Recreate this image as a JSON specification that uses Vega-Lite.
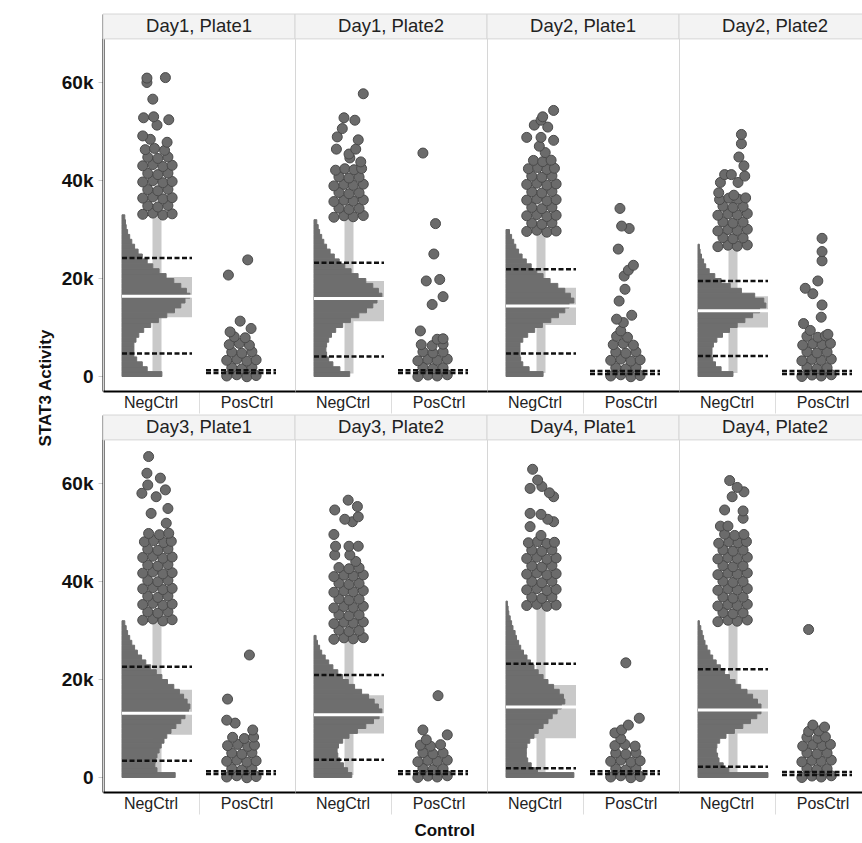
{
  "$schema": "https://vega.github.io/schema/vega-lite/v6.json",
  "padding": {"left": 37, "top": 13, "right": 0, "bottom": 0},
  "background": "white",
  "config": {
    "font": "Liberation Sans",
    "view": {"stroke": "#d6d6d6", "strokeWidth": 1},
    "axis": {"grid": false},
    "concat": {"spacing": 0},
    "header": {"labels": false, "title": null, "labelFontSize": 0, "labelPadding": 0}
  },
  "title": {"text": "Control", "orient": "bottom", "anchor": "middle", "dx": -10, "offset": 8, "fontSize": 17, "fontWeight": "bold", "color": "#111111"},
  "vconcat": [{
  "title": {"text": "STAT3 Activity", "orient": "left", "anchor": "middle", "offset": 6, "dx": 26, "fontSize": 17, "fontWeight": "bold", "color": "#111111"},
  "data": {"values": [
    {"p":"D1P1","c":"NegCtrl","lab":"Day1, Plate1","q1":12000,"q3":20200,"md":16300,"lo":1000,"hi":33500,"dh":24100,"dl":4600},
    {"p":"D1P1","c":"PosCtrl","dh":1200,"dl":600},
    {"p":"D1P2","c":"NegCtrl","lab":"Day1, Plate2","q1":11200,"q3":19400,"md":15800,"lo":500,"hi":33000,"dh":23100,"dl":4000},
    {"p":"D1P2","c":"PosCtrl","dh":1200,"dl":600},
    {"p":"D2P1","c":"NegCtrl","lab":"Day2, Plate1","q1":10400,"q3":18000,"md":14300,"lo":600,"hi":30500,"dh":21800,"dl":4600},
    {"p":"D2P1","c":"PosCtrl","dh":1000,"dl":400},
    {"p":"D2P2","c":"NegCtrl","lab":"Day2, Plate2","q1":9900,"q3":16300,"md":13300,"lo":600,"hi":27500,"dh":19400,"dl":4100},
    {"p":"D2P2","c":"PosCtrl","dh":1000,"dl":400},
    {"p":"D3P1","c":"NegCtrl","lab":"Day3, Plate1","q1":8600,"q3":17800,"md":13000,"lo":400,"hi":32500,"dh":22500,"dl":3300},
    {"p":"D3P1","c":"PosCtrl","dh":1200,"dl":600},
    {"p":"D3P2","c":"NegCtrl","lab":"Day3, Plate2","q1":8900,"q3":16700,"md":12700,"lo":400,"hi":29000,"dh":20800,"dl":3500},
    {"p":"D3P2","c":"PosCtrl","dh":1200,"dl":600},
    {"p":"D4P1","c":"NegCtrl","lab":"Day4, Plate1","q1":7900,"q3":18800,"md":14300,"lo":700,"hi":35500,"dh":23100,"dl":1800},
    {"p":"D4P1","c":"PosCtrl","dh":1200,"dl":600},
    {"p":"D4P2","c":"NegCtrl","lab":"Day4, Plate2","q1":8900,"q3":17800,"md":13700,"lo":600,"hi":32000,"dh":22000,"dl":2100},
    {"p":"D4P2","c":"PosCtrl","dh":1000,"dl":400},

    {"p":"D1P1","b":0,"n":57},{"p":"D1P1","b":1000,"n":36},{"p":"D1P1","b":2000,"n":29},{"p":"D1P1","b":3000,"n":21},{"p":"D1P1","b":4000,"n":17},{"p":"D1P1","b":5000,"n":17},{"p":"D1P1","b":6000,"n":17},{"p":"D1P1","b":7000,"n":20},{"p":"D1P1","b":8000,"n":24},{"p":"D1P1","b":9000,"n":31},{"p":"D1P1","b":10000,"n":41},{"p":"D1P1","b":11000,"n":52},{"p":"D1P1","b":12000,"n":64},{"p":"D1P1","b":13000,"n":75},{"p":"D1P1","b":14000,"n":84},{"p":"D1P1","b":15000,"n":90},{"p":"D1P1","b":16000,"n":97},{"p":"D1P1","b":17000,"n":92},{"p":"D1P1","b":18000,"n":84},{"p":"D1P1","b":19000,"n":74},{"p":"D1P1","b":20000,"n":63},{"p":"D1P1","b":21000,"n":53},{"p":"D1P1","b":22000,"n":44},{"p":"D1P1","b":23000,"n":36},{"p":"D1P1","b":24000,"n":29},{"p":"D1P1","b":25000,"n":23},{"p":"D1P1","b":26000,"n":18},{"p":"D1P1","b":27000,"n":14},{"p":"D1P1","b":28000,"n":11},{"p":"D1P1","b":29000,"n":8},{"p":"D1P1","b":30000,"n":6},{"p":"D1P1","b":31000,"n":5},{"p":"D1P1","b":32000,"n":4},
    {"p":"D1P2","b":0,"n":51},{"p":"D1P2","b":1000,"n":37},{"p":"D1P2","b":2000,"n":27},{"p":"D1P2","b":3000,"n":21},{"p":"D1P2","b":4000,"n":18},{"p":"D1P2","b":5000,"n":17},{"p":"D1P2","b":6000,"n":18},{"p":"D1P2","b":7000,"n":21},{"p":"D1P2","b":8000,"n":25},{"p":"D1P2","b":9000,"n":31},{"p":"D1P2","b":10000,"n":41},{"p":"D1P2","b":11000,"n":52},{"p":"D1P2","b":12000,"n":64},{"p":"D1P2","b":13000,"n":75},{"p":"D1P2","b":14000,"n":84},{"p":"D1P2","b":15000,"n":90},{"p":"D1P2","b":16000,"n":97},{"p":"D1P2","b":17000,"n":92},{"p":"D1P2","b":18000,"n":84},{"p":"D1P2","b":19000,"n":74},{"p":"D1P2","b":20000,"n":63},{"p":"D1P2","b":21000,"n":53},{"p":"D1P2","b":22000,"n":44},{"p":"D1P2","b":23000,"n":36},{"p":"D1P2","b":24000,"n":29},{"p":"D1P2","b":25000,"n":23},{"p":"D1P2","b":26000,"n":18},{"p":"D1P2","b":27000,"n":14},{"p":"D1P2","b":28000,"n":11},{"p":"D1P2","b":29000,"n":8},{"p":"D1P2","b":30000,"n":6},{"p":"D1P2","b":31000,"n":4},
    {"p":"D2P1","b":0,"n":53},{"p":"D2P1","b":1000,"n":33},{"p":"D2P1","b":2000,"n":24},{"p":"D2P1","b":3000,"n":21},{"p":"D2P1","b":4000,"n":20},{"p":"D2P1","b":5000,"n":20},{"p":"D2P1","b":6000,"n":20},{"p":"D2P1","b":7000,"n":24},{"p":"D2P1","b":8000,"n":31},{"p":"D2P1","b":9000,"n":41},{"p":"D2P1","b":10000,"n":52},{"p":"D2P1","b":11000,"n":64},{"p":"D2P1","b":12000,"n":75},{"p":"D2P1","b":13000,"n":84},{"p":"D2P1","b":14000,"n":90},{"p":"D2P1","b":15000,"n":97},{"p":"D2P1","b":16000,"n":92},{"p":"D2P1","b":17000,"n":84},{"p":"D2P1","b":18000,"n":74},{"p":"D2P1","b":19000,"n":63},{"p":"D2P1","b":20000,"n":53},{"p":"D2P1","b":21000,"n":44},{"p":"D2P1","b":22000,"n":36},{"p":"D2P1","b":23000,"n":29},{"p":"D2P1","b":24000,"n":23},{"p":"D2P1","b":25000,"n":18},{"p":"D2P1","b":26000,"n":14},{"p":"D2P1","b":27000,"n":11},{"p":"D2P1","b":28000,"n":8},{"p":"D2P1","b":29000,"n":5},
    {"p":"D2P2","b":0,"n":50},{"p":"D2P2","b":1000,"n":33},{"p":"D2P2","b":2000,"n":25},{"p":"D2P2","b":3000,"n":21},{"p":"D2P2","b":4000,"n":20},{"p":"D2P2","b":5000,"n":20},{"p":"D2P2","b":6000,"n":22},{"p":"D2P2","b":7000,"n":27},{"p":"D2P2","b":8000,"n":35},{"p":"D2P2","b":9000,"n":45},{"p":"D2P2","b":10000,"n":56},{"p":"D2P2","b":11000,"n":67},{"p":"D2P2","b":12000,"n":78},{"p":"D2P2","b":13000,"n":88},{"p":"D2P2","b":14000,"n":97},{"p":"D2P2","b":15000,"n":94},{"p":"D2P2","b":16000,"n":81},{"p":"D2P2","b":17000,"n":62},{"p":"D2P2","b":18000,"n":46},{"p":"D2P2","b":19000,"n":33},{"p":"D2P2","b":20000,"n":24},{"p":"D2P2","b":21000,"n":16},{"p":"D2P2","b":22000,"n":11},{"p":"D2P2","b":23000,"n":8},{"p":"D2P2","b":24000,"n":5},{"p":"D2P2","b":25000,"n":3},{"p":"D2P2","b":26000,"n":2},
    {"p":"D3P1","b":0,"n":76},{"p":"D3P1","b":1000,"n":50},{"p":"D3P1","b":2000,"n":47},{"p":"D3P1","b":3000,"n":48},{"p":"D3P1","b":4000,"n":50},{"p":"D3P1","b":5000,"n":53},{"p":"D3P1","b":6000,"n":56},{"p":"D3P1","b":7000,"n":60},{"p":"D3P1","b":8000,"n":64},{"p":"D3P1","b":9000,"n":70},{"p":"D3P1","b":10000,"n":77},{"p":"D3P1","b":11000,"n":84},{"p":"D3P1","b":12000,"n":90},{"p":"D3P1","b":13000,"n":95},{"p":"D3P1","b":14000,"n":97},{"p":"D3P1","b":15000,"n":93},{"p":"D3P1","b":16000,"n":88},{"p":"D3P1","b":17000,"n":82},{"p":"D3P1","b":18000,"n":74},{"p":"D3P1","b":19000,"n":65},{"p":"D3P1","b":20000,"n":57},{"p":"D3P1","b":21000,"n":49},{"p":"D3P1","b":22000,"n":41},{"p":"D3P1","b":23000,"n":34},{"p":"D3P1","b":24000,"n":28},{"p":"D3P1","b":25000,"n":22},{"p":"D3P1","b":26000,"n":18},{"p":"D3P1","b":27000,"n":14},{"p":"D3P1","b":28000,"n":11},{"p":"D3P1","b":29000,"n":8},{"p":"D3P1","b":30000,"n":6},{"p":"D3P1","b":31000,"n":4},
    {"p":"D3P2","b":0,"n":54},{"p":"D3P2","b":1000,"n":48},{"p":"D3P2","b":2000,"n":42},{"p":"D3P2","b":3000,"n":37},{"p":"D3P2","b":4000,"n":34},{"p":"D3P2","b":5000,"n":33},{"p":"D3P2","b":6000,"n":35},{"p":"D3P2","b":7000,"n":41},{"p":"D3P2","b":8000,"n":50},{"p":"D3P2","b":9000,"n":62},{"p":"D3P2","b":10000,"n":74},{"p":"D3P2","b":11000,"n":85},{"p":"D3P2","b":12000,"n":93},{"p":"D3P2","b":13000,"n":97},{"p":"D3P2","b":14000,"n":92},{"p":"D3P2","b":15000,"n":86},{"p":"D3P2","b":16000,"n":78},{"p":"D3P2","b":17000,"n":68},{"p":"D3P2","b":18000,"n":58},{"p":"D3P2","b":19000,"n":49},{"p":"D3P2","b":20000,"n":41},{"p":"D3P2","b":21000,"n":34},{"p":"D3P2","b":22000,"n":27},{"p":"D3P2","b":23000,"n":21},{"p":"D3P2","b":24000,"n":16},{"p":"D3P2","b":25000,"n":11},{"p":"D3P2","b":26000,"n":8},{"p":"D3P2","b":27000,"n":5},{"p":"D3P2","b":28000,"n":3},
    {"p":"D4P1","b":0,"n":97},{"p":"D4P1","b":1000,"n":45},{"p":"D4P1","b":2000,"n":36},{"p":"D4P1","b":3000,"n":31},{"p":"D4P1","b":4000,"n":29},{"p":"D4P1","b":5000,"n":29},{"p":"D4P1","b":6000,"n":30},{"p":"D4P1","b":7000,"n":34},{"p":"D4P1","b":8000,"n":40},{"p":"D4P1","b":9000,"n":46},{"p":"D4P1","b":10000,"n":53},{"p":"D4P1","b":11000,"n":60},{"p":"D4P1","b":12000,"n":66},{"p":"D4P1","b":13000,"n":73},{"p":"D4P1","b":14000,"n":79},{"p":"D4P1","b":15000,"n":84},{"p":"D4P1","b":16000,"n":82},{"p":"D4P1","b":17000,"n":76},{"p":"D4P1","b":18000,"n":68},{"p":"D4P1","b":19000,"n":60},{"p":"D4P1","b":20000,"n":53},{"p":"D4P1","b":21000,"n":46},{"p":"D4P1","b":22000,"n":40},{"p":"D4P1","b":23000,"n":35},{"p":"D4P1","b":24000,"n":30},{"p":"D4P1","b":25000,"n":25},{"p":"D4P1","b":26000,"n":21},{"p":"D4P1","b":27000,"n":18},{"p":"D4P1","b":28000,"n":15},{"p":"D4P1","b":29000,"n":13},{"p":"D4P1","b":30000,"n":10},{"p":"D4P1","b":31000,"n":8},{"p":"D4P1","b":32000,"n":6},{"p":"D4P1","b":33000,"n":4},{"p":"D4P1","b":34000,"n":3},{"p":"D4P1","b":35000,"n":2},
    {"p":"D4P2","b":0,"n":100},{"p":"D4P2","b":1000,"n":44},{"p":"D4P2","b":2000,"n":36},{"p":"D4P2","b":3000,"n":30},{"p":"D4P2","b":4000,"n":28},{"p":"D4P2","b":5000,"n":26},{"p":"D4P2","b":6000,"n":27},{"p":"D4P2","b":7000,"n":31},{"p":"D4P2","b":8000,"n":40},{"p":"D4P2","b":9000,"n":52},{"p":"D4P2","b":10000,"n":64},{"p":"D4P2","b":11000,"n":75},{"p":"D4P2","b":12000,"n":84},{"p":"D4P2","b":13000,"n":90},{"p":"D4P2","b":14000,"n":90},{"p":"D4P2","b":15000,"n":85},{"p":"D4P2","b":16000,"n":78},{"p":"D4P2","b":17000,"n":70},{"p":"D4P2","b":18000,"n":61},{"p":"D4P2","b":19000,"n":53},{"p":"D4P2","b":20000,"n":45},{"p":"D4P2","b":21000,"n":38},{"p":"D4P2","b":22000,"n":32},{"p":"D4P2","b":23000,"n":26},{"p":"D4P2","b":24000,"n":21},{"p":"D4P2","b":25000,"n":17},{"p":"D4P2","b":26000,"n":13},{"p":"D4P2","b":27000,"n":10},{"p":"D4P2","b":28000,"n":8},{"p":"D4P2","b":29000,"n":6},{"p":"D4P2","b":30000,"n":4},{"p":"D4P2","b":31000,"n":2},

    {"p":"D1P1","c":"NegCtrl","v":33000,"j":-0.17},{"p":"D1P1","c":"NegCtrl","v":33250,"j":-0.05},{"p":"D1P1","c":"NegCtrl","v":32850,"j":0.07},{"p":"D1P1","c":"NegCtrl","v":33100,"j":0.18},
    {"p":"D1P1","c":"NegCtrl","v":34750,"j":-0.11},{"p":"D1P1","c":"NegCtrl","v":34500,"j":0.01},{"p":"D1P1","c":"NegCtrl","v":34800,"j":0.13},
    {"p":"D1P1","c":"NegCtrl","v":36300,"j":-0.17},{"p":"D1P1","c":"NegCtrl","v":36550,"j":-0.05},{"p":"D1P1","c":"NegCtrl","v":36150,"j":0.07},{"p":"D1P1","c":"NegCtrl","v":36400,"j":0.18},
    {"p":"D1P1","c":"NegCtrl","v":38050,"j":-0.11},{"p":"D1P1","c":"NegCtrl","v":37800,"j":0.01},{"p":"D1P1","c":"NegCtrl","v":38100,"j":0.13},
    {"p":"D1P1","c":"NegCtrl","v":39600,"j":-0.17},{"p":"D1P1","c":"NegCtrl","v":39850,"j":-0.05},{"p":"D1P1","c":"NegCtrl","v":39450,"j":0.07},{"p":"D1P1","c":"NegCtrl","v":39700,"j":0.18},
    {"p":"D1P1","c":"NegCtrl","v":41350,"j":-0.11},{"p":"D1P1","c":"NegCtrl","v":41100,"j":0.01},{"p":"D1P1","c":"NegCtrl","v":41400,"j":0.13},
    {"p":"D1P1","c":"NegCtrl","v":42900,"j":-0.17},{"p":"D1P1","c":"NegCtrl","v":43150,"j":-0.05},{"p":"D1P1","c":"NegCtrl","v":42750,"j":0.07},{"p":"D1P1","c":"NegCtrl","v":43000,"j":0.18},
    {"p":"D1P1","c":"NegCtrl","v":44650,"j":-0.11},{"p":"D1P1","c":"NegCtrl","v":44400,"j":0.01},{"p":"D1P1","c":"NegCtrl","v":44700,"j":0.13},
    {"p":"D1P1","c":"NegCtrl","v":46200,"j":-0.14},{"p":"D1P1","c":"NegCtrl","v":46450,"j":-0.03},{"p":"D1P1","c":"NegCtrl","v":46050,"j":0.09},
    {"p":"D1P1","c":"NegCtrl","v":47700,"j":0.12},{"p":"D1P1","c":"NegCtrl","v":48300,"j":-0.08},{"p":"D1P1","c":"NegCtrl","v":49000,"j":-0.17},{"p":"D1P1","c":"NegCtrl","v":51200,"j":0.0},{"p":"D1P1","c":"NegCtrl","v":52300,"j":0.14},{"p":"D1P1","c":"NegCtrl","v":52900,"j":-0.04},{"p":"D1P1","c":"NegCtrl","v":52700,"j":-0.16},{"p":"D1P1","c":"NegCtrl","v":56500,"j":-0.05},{"p":"D1P1","c":"NegCtrl","v":59900,"j":-0.12},{"p":"D1P1","c":"NegCtrl","v":60800,"j":-0.12},{"p":"D1P1","c":"NegCtrl","v":60900,"j":0.1},
    {"p":"D1P1","c":"PosCtrl","v":0,"j":-0.17},{"p":"D1P1","c":"PosCtrl","v":250,"j":-0.05},{"p":"D1P1","c":"PosCtrl","v":-150,"j":0.07},{"p":"D1P1","c":"PosCtrl","v":100,"j":0.18},
    {"p":"D1P1","c":"PosCtrl","v":1700,"j":-0.11},{"p":"D1P1","c":"PosCtrl","v":1450,"j":0.01},{"p":"D1P1","c":"PosCtrl","v":1750,"j":0.13},
    {"p":"D1P1","c":"PosCtrl","v":3200,"j":-0.17},{"p":"D1P1","c":"PosCtrl","v":3450,"j":-0.05},{"p":"D1P1","c":"PosCtrl","v":3050,"j":0.07},{"p":"D1P1","c":"PosCtrl","v":3300,"j":0.18},
    {"p":"D1P1","c":"PosCtrl","v":4900,"j":-0.11},{"p":"D1P1","c":"PosCtrl","v":4650,"j":0.01},{"p":"D1P1","c":"PosCtrl","v":4950,"j":0.13},
    {"p":"D1P1","c":"PosCtrl","v":6400,"j":-0.14},{"p":"D1P1","c":"PosCtrl","v":6650,"j":-0.02},{"p":"D1P1","c":"PosCtrl","v":6300,"j":0.1},
    {"p":"D1P1","c":"PosCtrl","v":8000,"j":-0.08},{"p":"D1P1","c":"PosCtrl","v":7800,"j":0.05},
    {"p":"D1P1","c":"PosCtrl","v":9000,"j":-0.13},{"p":"D1P1","c":"PosCtrl","v":9700,"j":0.12},{"p":"D1P1","c":"PosCtrl","v":11200,"j":-0.01},{"p":"D1P1","c":"PosCtrl","v":20600,"j":-0.15},{"p":"D1P1","c":"PosCtrl","v":23700,"j":0.08},

    {"p":"D1P2","c":"NegCtrl","v":32400,"j":-0.18},{"p":"D1P2","c":"NegCtrl","v":32700,"j":-0.06},{"p":"D1P2","c":"NegCtrl","v":32500,"j":0.05},{"p":"D1P2","c":"NegCtrl","v":32750,"j":0.17},
    {"p":"D1P2","c":"NegCtrl","v":34250,"j":-0.12},{"p":"D1P2","c":"NegCtrl","v":34000,"j":0.0},{"p":"D1P2","c":"NegCtrl","v":34200,"j":0.12},
    {"p":"D1P2","c":"NegCtrl","v":35600,"j":-0.18},{"p":"D1P2","c":"NegCtrl","v":35900,"j":-0.06},{"p":"D1P2","c":"NegCtrl","v":35700,"j":0.05},{"p":"D1P2","c":"NegCtrl","v":35950,"j":0.17},
    {"p":"D1P2","c":"NegCtrl","v":37450,"j":-0.12},{"p":"D1P2","c":"NegCtrl","v":37200,"j":0.0},{"p":"D1P2","c":"NegCtrl","v":37400,"j":0.12},
    {"p":"D1P2","c":"NegCtrl","v":38800,"j":-0.18},{"p":"D1P2","c":"NegCtrl","v":39100,"j":-0.06},{"p":"D1P2","c":"NegCtrl","v":38900,"j":0.05},{"p":"D1P2","c":"NegCtrl","v":39150,"j":0.17},
    {"p":"D1P2","c":"NegCtrl","v":40650,"j":-0.12},{"p":"D1P2","c":"NegCtrl","v":40400,"j":0.0},{"p":"D1P2","c":"NegCtrl","v":40600,"j":0.12},
    {"p":"D1P2","c":"NegCtrl","v":42000,"j":-0.16},{"p":"D1P2","c":"NegCtrl","v":42300,"j":-0.05},{"p":"D1P2","c":"NegCtrl","v":42100,"j":0.06},{"p":"D1P2","c":"NegCtrl","v":42350,"j":0.15},
    {"p":"D1P2","c":"NegCtrl","v":43700,"j":0.14},{"p":"D1P2","c":"NegCtrl","v":44500,"j":0.01},{"p":"D1P2","c":"NegCtrl","v":45300,"j":0.0},{"p":"D1P2","c":"NegCtrl","v":46300,"j":-0.15},{"p":"D1P2","c":"NegCtrl","v":46300,"j":0.08},{"p":"D1P2","c":"NegCtrl","v":48200,"j":0.11},{"p":"D1P2","c":"NegCtrl","v":48800,"j":-0.14},{"p":"D1P2","c":"NegCtrl","v":50500,"j":-0.08},{"p":"D1P2","c":"NegCtrl","v":52200,"j":0.07},{"p":"D1P2","c":"NegCtrl","v":52700,"j":-0.06},{"p":"D1P2","c":"NegCtrl","v":57600,"j":0.17},
    {"p":"D1P2","c":"PosCtrl","v":-100,"j":-0.18},{"p":"D1P2","c":"PosCtrl","v":200,"j":-0.06},{"p":"D1P2","c":"PosCtrl","v":0,"j":0.05},{"p":"D1P2","c":"PosCtrl","v":250,"j":0.17},
    {"p":"D1P2","c":"PosCtrl","v":1750,"j":-0.12},{"p":"D1P2","c":"PosCtrl","v":1500,"j":0.0},{"p":"D1P2","c":"PosCtrl","v":1700,"j":0.12},
    {"p":"D1P2","c":"PosCtrl","v":3100,"j":-0.18},{"p":"D1P2","c":"PosCtrl","v":3400,"j":-0.06},{"p":"D1P2","c":"PosCtrl","v":3200,"j":0.05},{"p":"D1P2","c":"PosCtrl","v":3450,"j":0.17},
    {"p":"D1P2","c":"PosCtrl","v":4950,"j":-0.12},{"p":"D1P2","c":"PosCtrl","v":4700,"j":0.0},{"p":"D1P2","c":"PosCtrl","v":4900,"j":0.12},
    {"p":"D1P2","c":"PosCtrl","v":6400,"j":-0.14},{"p":"D1P2","c":"PosCtrl","v":6200,"j":-0.01},{"p":"D1P2","c":"PosCtrl","v":6500,"j":0.12},
    {"p":"D1P2","c":"PosCtrl","v":7500,"j":0.05},{"p":"D1P2","c":"PosCtrl","v":7600,"j":0.12},{"p":"D1P2","c":"PosCtrl","v":9200,"j":-0.15},{"p":"D1P2","c":"PosCtrl","v":14600,"j":-0.01},{"p":"D1P2","c":"PosCtrl","v":16200,"j":0.12},{"p":"D1P2","c":"PosCtrl","v":19400,"j":-0.08},{"p":"D1P2","c":"PosCtrl","v":19700,"j":0.08},{"p":"D1P2","c":"PosCtrl","v":24900,"j":0.01},{"p":"D1P2","c":"PosCtrl","v":31100,"j":0.03},{"p":"D1P2","c":"PosCtrl","v":45500,"j":-0.12},

    {"p":"D2P1","c":"NegCtrl","v":29500,"j":-0.17},{"p":"D2P1","c":"NegCtrl","v":29750,"j":-0.05},{"p":"D2P1","c":"NegCtrl","v":29350,"j":0.07},{"p":"D2P1","c":"NegCtrl","v":29600,"j":0.18},
    {"p":"D2P1","c":"NegCtrl","v":31200,"j":-0.11},{"p":"D2P1","c":"NegCtrl","v":30950,"j":0.01},{"p":"D2P1","c":"NegCtrl","v":31250,"j":0.13},
    {"p":"D2P1","c":"NegCtrl","v":32700,"j":-0.17},{"p":"D2P1","c":"NegCtrl","v":32950,"j":-0.05},{"p":"D2P1","c":"NegCtrl","v":32550,"j":0.07},{"p":"D2P1","c":"NegCtrl","v":32800,"j":0.18},
    {"p":"D2P1","c":"NegCtrl","v":34400,"j":-0.11},{"p":"D2P1","c":"NegCtrl","v":34150,"j":0.01},{"p":"D2P1","c":"NegCtrl","v":34450,"j":0.13},
    {"p":"D2P1","c":"NegCtrl","v":35900,"j":-0.17},{"p":"D2P1","c":"NegCtrl","v":36150,"j":-0.05},{"p":"D2P1","c":"NegCtrl","v":35750,"j":0.07},{"p":"D2P1","c":"NegCtrl","v":36000,"j":0.18},
    {"p":"D2P1","c":"NegCtrl","v":37600,"j":-0.11},{"p":"D2P1","c":"NegCtrl","v":37350,"j":0.01},{"p":"D2P1","c":"NegCtrl","v":37650,"j":0.13},
    {"p":"D2P1","c":"NegCtrl","v":39100,"j":-0.17},{"p":"D2P1","c":"NegCtrl","v":39350,"j":-0.05},{"p":"D2P1","c":"NegCtrl","v":38950,"j":0.07},{"p":"D2P1","c":"NegCtrl","v":39200,"j":0.18},
    {"p":"D2P1","c":"NegCtrl","v":40800,"j":-0.11},{"p":"D2P1","c":"NegCtrl","v":40550,"j":0.01},{"p":"D2P1","c":"NegCtrl","v":40850,"j":0.13},
    {"p":"D2P1","c":"NegCtrl","v":42300,"j":-0.15},{"p":"D2P1","c":"NegCtrl","v":42550,"j":-0.04},{"p":"D2P1","c":"NegCtrl","v":42150,"j":0.07},{"p":"D2P1","c":"NegCtrl","v":42400,"j":0.16},
    {"p":"D2P1","c":"NegCtrl","v":44000,"j":-0.09},{"p":"D2P1","c":"NegCtrl","v":43750,"j":0.02},{"p":"D2P1","c":"NegCtrl","v":44050,"j":0.12},
    {"p":"D2P1","c":"NegCtrl","v":45600,"j":0.05},{"p":"D2P1","c":"NegCtrl","v":46900,"j":-0.02},{"p":"D2P1","c":"NegCtrl","v":48100,"j":0.15},{"p":"D2P1","c":"NegCtrl","v":48700,"j":-0.17},{"p":"D2P1","c":"NegCtrl","v":48700,"j":0.0},{"p":"D2P1","c":"NegCtrl","v":50800,"j":0.08},{"p":"D2P1","c":"NegCtrl","v":51200,"j":-0.08},{"p":"D2P1","c":"NegCtrl","v":52200,"j":0.0},{"p":"D2P1","c":"NegCtrl","v":52900,"j":0.02},{"p":"D2P1","c":"NegCtrl","v":54200,"j":0.15},
    {"p":"D2P1","c":"PosCtrl","v":0,"j":-0.17},{"p":"D2P1","c":"PosCtrl","v":250,"j":-0.05},{"p":"D2P1","c":"PosCtrl","v":-150,"j":0.07},{"p":"D2P1","c":"PosCtrl","v":100,"j":0.18},
    {"p":"D2P1","c":"PosCtrl","v":1700,"j":-0.11},{"p":"D2P1","c":"PosCtrl","v":1450,"j":0.01},{"p":"D2P1","c":"PosCtrl","v":1750,"j":0.13},
    {"p":"D2P1","c":"PosCtrl","v":3200,"j":-0.17},{"p":"D2P1","c":"PosCtrl","v":3450,"j":-0.05},{"p":"D2P1","c":"PosCtrl","v":3050,"j":0.07},{"p":"D2P1","c":"PosCtrl","v":3300,"j":0.18},
    {"p":"D2P1","c":"PosCtrl","v":4900,"j":-0.11},{"p":"D2P1","c":"PosCtrl","v":4650,"j":0.01},{"p":"D2P1","c":"PosCtrl","v":4950,"j":0.13},
    {"p":"D2P1","c":"PosCtrl","v":6400,"j":-0.14},{"p":"D2P1","c":"PosCtrl","v":6650,"j":-0.02},{"p":"D2P1","c":"PosCtrl","v":6300,"j":0.1},
    {"p":"D2P1","c":"PosCtrl","v":8100,"j":-0.1},{"p":"D2P1","c":"PosCtrl","v":7900,"j":0.03},{"p":"D2P1","c":"PosCtrl","v":9200,"j":-0.05},
    {"p":"D2P1","c":"PosCtrl","v":10900,"j":-0.02},{"p":"D2P1","c":"PosCtrl","v":11600,"j":-0.1},{"p":"D2P1","c":"PosCtrl","v":12400,"j":0.08},{"p":"D2P1","c":"PosCtrl","v":15300,"j":-0.07},{"p":"D2P1","c":"PosCtrl","v":17700,"j":0.0},{"p":"D2P1","c":"PosCtrl","v":20400,"j":-0.01},{"p":"D2P1","c":"PosCtrl","v":21600,"j":0.04},{"p":"D2P1","c":"PosCtrl","v":22600,"j":0.1},{"p":"D2P1","c":"PosCtrl","v":25900,"j":-0.08},{"p":"D2P1","c":"PosCtrl","v":30100,"j":0.05},{"p":"D2P1","c":"PosCtrl","v":30600,"j":-0.04},{"p":"D2P1","c":"PosCtrl","v":34200,"j":-0.06},

    {"p":"D2P2","c":"NegCtrl","v":26400,"j":-0.18},{"p":"D2P2","c":"NegCtrl","v":26700,"j":-0.06},{"p":"D2P2","c":"NegCtrl","v":26500,"j":0.05},{"p":"D2P2","c":"NegCtrl","v":26750,"j":0.17},
    {"p":"D2P2","c":"NegCtrl","v":28250,"j":-0.12},{"p":"D2P2","c":"NegCtrl","v":28000,"j":0.0},{"p":"D2P2","c":"NegCtrl","v":28200,"j":0.12},
    {"p":"D2P2","c":"NegCtrl","v":29600,"j":-0.18},{"p":"D2P2","c":"NegCtrl","v":29900,"j":-0.06},{"p":"D2P2","c":"NegCtrl","v":29700,"j":0.05},{"p":"D2P2","c":"NegCtrl","v":29950,"j":0.17},
    {"p":"D2P2","c":"NegCtrl","v":31450,"j":-0.12},{"p":"D2P2","c":"NegCtrl","v":31200,"j":0.0},{"p":"D2P2","c":"NegCtrl","v":31400,"j":0.12},
    {"p":"D2P2","c":"NegCtrl","v":32800,"j":-0.18},{"p":"D2P2","c":"NegCtrl","v":33100,"j":-0.06},{"p":"D2P2","c":"NegCtrl","v":32900,"j":0.05},{"p":"D2P2","c":"NegCtrl","v":33150,"j":0.17},
    {"p":"D2P2","c":"NegCtrl","v":34650,"j":-0.12},{"p":"D2P2","c":"NegCtrl","v":34400,"j":0.0},{"p":"D2P2","c":"NegCtrl","v":34600,"j":0.12},
    {"p":"D2P2","c":"NegCtrl","v":36000,"j":-0.16},{"p":"D2P2","c":"NegCtrl","v":36300,"j":-0.05},{"p":"D2P2","c":"NegCtrl","v":36100,"j":0.06},{"p":"D2P2","c":"NegCtrl","v":36350,"j":0.15},
    {"p":"D2P2","c":"NegCtrl","v":36900,"j":0.01},{"p":"D2P2","c":"NegCtrl","v":37400,"j":-0.17},{"p":"D2P2","c":"NegCtrl","v":39500,"j":-0.15},{"p":"D2P2","c":"NegCtrl","v":39500,"j":0.06},{"p":"D2P2","c":"NegCtrl","v":41100,"j":-0.1},{"p":"D2P2","c":"NegCtrl","v":41100,"j":-0.02},{"p":"D2P2","c":"NegCtrl","v":40800,"j":0.14},{"p":"D2P2","c":"NegCtrl","v":42900,"j":0.13},{"p":"D2P2","c":"NegCtrl","v":44700,"j":0.07},{"p":"D2P2","c":"NegCtrl","v":47400,"j":0.1},{"p":"D2P2","c":"NegCtrl","v":49300,"j":0.1},
    {"p":"D2P2","c":"PosCtrl","v":-100,"j":-0.18},{"p":"D2P2","c":"PosCtrl","v":200,"j":-0.06},{"p":"D2P2","c":"PosCtrl","v":0,"j":0.05},{"p":"D2P2","c":"PosCtrl","v":250,"j":0.17},
    {"p":"D2P2","c":"PosCtrl","v":1750,"j":-0.12},{"p":"D2P2","c":"PosCtrl","v":1500,"j":0.0},{"p":"D2P2","c":"PosCtrl","v":1700,"j":0.12},
    {"p":"D2P2","c":"PosCtrl","v":3100,"j":-0.18},{"p":"D2P2","c":"PosCtrl","v":3400,"j":-0.06},{"p":"D2P2","c":"PosCtrl","v":3200,"j":0.05},{"p":"D2P2","c":"PosCtrl","v":3450,"j":0.17},
    {"p":"D2P2","c":"PosCtrl","v":4950,"j":-0.12},{"p":"D2P2","c":"PosCtrl","v":4700,"j":0.0},{"p":"D2P2","c":"PosCtrl","v":4900,"j":0.12},
    {"p":"D2P2","c":"PosCtrl","v":6300,"j":-0.17},{"p":"D2P2","c":"PosCtrl","v":6600,"j":-0.05},{"p":"D2P2","c":"PosCtrl","v":6400,"j":0.06},{"p":"D2P2","c":"PosCtrl","v":6650,"j":0.16},
    {"p":"D2P2","c":"PosCtrl","v":8100,"j":-0.12},{"p":"D2P2","c":"PosCtrl","v":7900,"j":0.01},{"p":"D2P2","c":"PosCtrl","v":8200,"j":0.1},
    {"p":"D2P2","c":"PosCtrl","v":8500,"j":0.13},{"p":"D2P2","c":"PosCtrl","v":9300,"j":-0.08},{"p":"D2P2","c":"PosCtrl","v":10700,"j":-0.16},{"p":"D2P2","c":"PosCtrl","v":12000,"j":0.05},{"p":"D2P2","c":"PosCtrl","v":14500,"j":0.06},{"p":"D2P2","c":"PosCtrl","v":16800,"j":-0.05},{"p":"D2P2","c":"PosCtrl","v":17900,"j":-0.14},{"p":"D2P2","c":"PosCtrl","v":19400,"j":0.01},{"p":"D2P2","c":"PosCtrl","v":23500,"j":0.06},{"p":"D2P2","c":"PosCtrl","v":25400,"j":0.06},{"p":"D2P2","c":"PosCtrl","v":28100,"j":0.06},

    {"p":"D3P1","c":"NegCtrl","v":32000,"j":-0.17},{"p":"D3P1","c":"NegCtrl","v":32250,"j":-0.05},{"p":"D3P1","c":"NegCtrl","v":31850,"j":0.07},{"p":"D3P1","c":"NegCtrl","v":32100,"j":0.18},
    {"p":"D3P1","c":"NegCtrl","v":33700,"j":-0.11},{"p":"D3P1","c":"NegCtrl","v":33450,"j":0.01},{"p":"D3P1","c":"NegCtrl","v":33750,"j":0.13},
    {"p":"D3P1","c":"NegCtrl","v":35200,"j":-0.17},{"p":"D3P1","c":"NegCtrl","v":35450,"j":-0.05},{"p":"D3P1","c":"NegCtrl","v":35050,"j":0.07},{"p":"D3P1","c":"NegCtrl","v":35300,"j":0.18},
    {"p":"D3P1","c":"NegCtrl","v":36900,"j":-0.11},{"p":"D3P1","c":"NegCtrl","v":36650,"j":0.01},{"p":"D3P1","c":"NegCtrl","v":36950,"j":0.13},
    {"p":"D3P1","c":"NegCtrl","v":38400,"j":-0.17},{"p":"D3P1","c":"NegCtrl","v":38650,"j":-0.05},{"p":"D3P1","c":"NegCtrl","v":38250,"j":0.07},{"p":"D3P1","c":"NegCtrl","v":38500,"j":0.18},
    {"p":"D3P1","c":"NegCtrl","v":40100,"j":-0.11},{"p":"D3P1","c":"NegCtrl","v":39850,"j":0.01},{"p":"D3P1","c":"NegCtrl","v":40150,"j":0.13},
    {"p":"D3P1","c":"NegCtrl","v":41600,"j":-0.17},{"p":"D3P1","c":"NegCtrl","v":41850,"j":-0.05},{"p":"D3P1","c":"NegCtrl","v":41450,"j":0.07},{"p":"D3P1","c":"NegCtrl","v":41700,"j":0.18},
    {"p":"D3P1","c":"NegCtrl","v":43300,"j":-0.11},{"p":"D3P1","c":"NegCtrl","v":43050,"j":0.01},{"p":"D3P1","c":"NegCtrl","v":43350,"j":0.13},
    {"p":"D3P1","c":"NegCtrl","v":44800,"j":-0.17},{"p":"D3P1","c":"NegCtrl","v":45050,"j":-0.05},{"p":"D3P1","c":"NegCtrl","v":44650,"j":0.07},{"p":"D3P1","c":"NegCtrl","v":44900,"j":0.18},
    {"p":"D3P1","c":"NegCtrl","v":46500,"j":-0.11},{"p":"D3P1","c":"NegCtrl","v":46250,"j":0.01},{"p":"D3P1","c":"NegCtrl","v":46550,"j":0.13},
    {"p":"D3P1","c":"NegCtrl","v":48000,"j":-0.15},{"p":"D3P1","c":"NegCtrl","v":48250,"j":-0.04},{"p":"D3P1","c":"NegCtrl","v":47850,"j":0.08},{"p":"D3P1","c":"NegCtrl","v":48100,"j":0.17},
    {"p":"D3P1","c":"NegCtrl","v":49700,"j":-0.1},{"p":"D3P1","c":"NegCtrl","v":49450,"j":0.03},{"p":"D3P1","c":"NegCtrl","v":49750,"j":0.14},
    {"p":"D3P1","c":"NegCtrl","v":51800,"j":0.11},{"p":"D3P1","c":"NegCtrl","v":53800,"j":-0.07},{"p":"D3P1","c":"NegCtrl","v":54800,"j":0.13},{"p":"D3P1","c":"NegCtrl","v":57200,"j":-0.01},{"p":"D3P1","c":"NegCtrl","v":57900,"j":-0.18},{"p":"D3P1","c":"NegCtrl","v":58600,"j":0.1},{"p":"D3P1","c":"NegCtrl","v":59600,"j":-0.11},{"p":"D3P1","c":"NegCtrl","v":61000,"j":0.04},{"p":"D3P1","c":"NegCtrl","v":62000,"j":-0.12},{"p":"D3P1","c":"NegCtrl","v":65400,"j":-0.1},
    {"p":"D3P1","c":"PosCtrl","v":0,"j":-0.17},{"p":"D3P1","c":"PosCtrl","v":250,"j":-0.05},{"p":"D3P1","c":"PosCtrl","v":-150,"j":0.07},{"p":"D3P1","c":"PosCtrl","v":100,"j":0.18},
    {"p":"D3P1","c":"PosCtrl","v":1700,"j":-0.11},{"p":"D3P1","c":"PosCtrl","v":1450,"j":0.01},{"p":"D3P1","c":"PosCtrl","v":1750,"j":0.13},
    {"p":"D3P1","c":"PosCtrl","v":3200,"j":-0.17},{"p":"D3P1","c":"PosCtrl","v":3450,"j":-0.05},{"p":"D3P1","c":"PosCtrl","v":3050,"j":0.07},{"p":"D3P1","c":"PosCtrl","v":3300,"j":0.18},
    {"p":"D3P1","c":"PosCtrl","v":4900,"j":-0.11},{"p":"D3P1","c":"PosCtrl","v":4650,"j":0.01},{"p":"D3P1","c":"PosCtrl","v":4950,"j":0.13},
    {"p":"D3P1","c":"PosCtrl","v":6400,"j":-0.16},{"p":"D3P1","c":"PosCtrl","v":6650,"j":-0.04},{"p":"D3P1","c":"PosCtrl","v":6250,"j":0.08},{"p":"D3P1","c":"PosCtrl","v":6500,"j":0.16},
    {"p":"D3P1","c":"PosCtrl","v":8100,"j":-0.1},{"p":"D3P1","c":"PosCtrl","v":7850,"j":0.04},{"p":"D3P1","c":"PosCtrl","v":8150,"j":0.15},
    {"p":"D3P1","c":"PosCtrl","v":9600,"j":0.14},{"p":"D3P1","c":"PosCtrl","v":11000,"j":-0.07},{"p":"D3P1","c":"PosCtrl","v":11600,"j":-0.17},{"p":"D3P1","c":"PosCtrl","v":15900,"j":-0.16},{"p":"D3P1","c":"PosCtrl","v":24900,"j":0.1},

    {"p":"D3P2","c":"NegCtrl","v":28100,"j":-0.18},{"p":"D3P2","c":"NegCtrl","v":28400,"j":-0.06},{"p":"D3P2","c":"NegCtrl","v":28200,"j":0.05},{"p":"D3P2","c":"NegCtrl","v":28450,"j":0.17},
    {"p":"D3P2","c":"NegCtrl","v":29950,"j":-0.12},{"p":"D3P2","c":"NegCtrl","v":29700,"j":0.0},{"p":"D3P2","c":"NegCtrl","v":29900,"j":0.12},
    {"p":"D3P2","c":"NegCtrl","v":31300,"j":-0.18},{"p":"D3P2","c":"NegCtrl","v":31600,"j":-0.06},{"p":"D3P2","c":"NegCtrl","v":31400,"j":0.05},{"p":"D3P2","c":"NegCtrl","v":31650,"j":0.17},
    {"p":"D3P2","c":"NegCtrl","v":33150,"j":-0.12},{"p":"D3P2","c":"NegCtrl","v":32900,"j":0.0},{"p":"D3P2","c":"NegCtrl","v":33100,"j":0.12},
    {"p":"D3P2","c":"NegCtrl","v":34500,"j":-0.18},{"p":"D3P2","c":"NegCtrl","v":34800,"j":-0.06},{"p":"D3P2","c":"NegCtrl","v":34600,"j":0.05},{"p":"D3P2","c":"NegCtrl","v":34850,"j":0.17},
    {"p":"D3P2","c":"NegCtrl","v":36350,"j":-0.12},{"p":"D3P2","c":"NegCtrl","v":36100,"j":0.0},{"p":"D3P2","c":"NegCtrl","v":36300,"j":0.12},
    {"p":"D3P2","c":"NegCtrl","v":37700,"j":-0.18},{"p":"D3P2","c":"NegCtrl","v":38000,"j":-0.06},{"p":"D3P2","c":"NegCtrl","v":37800,"j":0.05},{"p":"D3P2","c":"NegCtrl","v":38050,"j":0.17},
    {"p":"D3P2","c":"NegCtrl","v":39550,"j":-0.12},{"p":"D3P2","c":"NegCtrl","v":39300,"j":0.0},{"p":"D3P2","c":"NegCtrl","v":39500,"j":0.12},
    {"p":"D3P2","c":"NegCtrl","v":40900,"j":-0.18},{"p":"D3P2","c":"NegCtrl","v":41200,"j":-0.06},{"p":"D3P2","c":"NegCtrl","v":41000,"j":0.05},{"p":"D3P2","c":"NegCtrl","v":41250,"j":0.17},
    {"p":"D3P2","c":"NegCtrl","v":42750,"j":-0.12},{"p":"D3P2","c":"NegCtrl","v":42500,"j":0.0},{"p":"D3P2","c":"NegCtrl","v":42700,"j":0.12},
    {"p":"D3P2","c":"NegCtrl","v":44000,"j":0.08},{"p":"D3P2","c":"NegCtrl","v":45300,"j":-0.17},{"p":"D3P2","c":"NegCtrl","v":45300,"j":0.01},{"p":"D3P2","c":"NegCtrl","v":47100,"j":-0.16},{"p":"D3P2","c":"NegCtrl","v":47100,"j":0.0},{"p":"D3P2","c":"NegCtrl","v":47100,"j":0.11},{"p":"D3P2","c":"NegCtrl","v":49500,"j":-0.18},{"p":"D3P2","c":"NegCtrl","v":52100,"j":0.04},{"p":"D3P2","c":"NegCtrl","v":52600,"j":-0.05},{"p":"D3P2","c":"NegCtrl","v":53100,"j":0.11},{"p":"D3P2","c":"NegCtrl","v":54500,"j":-0.17},{"p":"D3P2","c":"NegCtrl","v":55200,"j":0.1},{"p":"D3P2","c":"NegCtrl","v":56500,"j":-0.01},
    {"p":"D3P2","c":"PosCtrl","v":-100,"j":-0.18},{"p":"D3P2","c":"PosCtrl","v":200,"j":-0.06},{"p":"D3P2","c":"PosCtrl","v":0,"j":0.05},{"p":"D3P2","c":"PosCtrl","v":250,"j":0.17},
    {"p":"D3P2","c":"PosCtrl","v":1750,"j":-0.12},{"p":"D3P2","c":"PosCtrl","v":1500,"j":0.0},{"p":"D3P2","c":"PosCtrl","v":1700,"j":0.12},
    {"p":"D3P2","c":"PosCtrl","v":3100,"j":-0.18},{"p":"D3P2","c":"PosCtrl","v":3400,"j":-0.06},{"p":"D3P2","c":"PosCtrl","v":3200,"j":0.05},{"p":"D3P2","c":"PosCtrl","v":3450,"j":0.17},
    {"p":"D3P2","c":"PosCtrl","v":4950,"j":-0.12},{"p":"D3P2","c":"PosCtrl","v":4700,"j":0.0},{"p":"D3P2","c":"PosCtrl","v":4900,"j":0.12},
    {"p":"D3P2","c":"PosCtrl","v":6500,"j":-0.15},{"p":"D3P2","c":"PosCtrl","v":6300,"j":-0.03},{"p":"D3P2","c":"PosCtrl","v":6600,"j":0.09},{"p":"D3P2","c":"PosCtrl","v":7600,"j":-0.08},
    {"p":"D3P2","c":"PosCtrl","v":8600,"j":0.17},{"p":"D3P2","c":"PosCtrl","v":9600,"j":-0.12},{"p":"D3P2","c":"PosCtrl","v":16600,"j":0.06},

    {"p":"D4P1","c":"NegCtrl","v":35000,"j":-0.17},{"p":"D4P1","c":"NegCtrl","v":35250,"j":-0.05},{"p":"D4P1","c":"NegCtrl","v":34850,"j":0.07},{"p":"D4P1","c":"NegCtrl","v":35100,"j":0.18},
    {"p":"D4P1","c":"NegCtrl","v":36700,"j":-0.11},{"p":"D4P1","c":"NegCtrl","v":36450,"j":0.01},{"p":"D4P1","c":"NegCtrl","v":36750,"j":0.13},
    {"p":"D4P1","c":"NegCtrl","v":38200,"j":-0.17},{"p":"D4P1","c":"NegCtrl","v":38450,"j":-0.05},{"p":"D4P1","c":"NegCtrl","v":38050,"j":0.07},{"p":"D4P1","c":"NegCtrl","v":38300,"j":0.18},
    {"p":"D4P1","c":"NegCtrl","v":39900,"j":-0.11},{"p":"D4P1","c":"NegCtrl","v":39650,"j":0.01},{"p":"D4P1","c":"NegCtrl","v":39950,"j":0.13},
    {"p":"D4P1","c":"NegCtrl","v":41400,"j":-0.17},{"p":"D4P1","c":"NegCtrl","v":41650,"j":-0.05},{"p":"D4P1","c":"NegCtrl","v":41250,"j":0.07},{"p":"D4P1","c":"NegCtrl","v":41500,"j":0.18},
    {"p":"D4P1","c":"NegCtrl","v":43100,"j":-0.11},{"p":"D4P1","c":"NegCtrl","v":42850,"j":0.01},{"p":"D4P1","c":"NegCtrl","v":43150,"j":0.13},
    {"p":"D4P1","c":"NegCtrl","v":44600,"j":-0.17},{"p":"D4P1","c":"NegCtrl","v":44850,"j":-0.05},{"p":"D4P1","c":"NegCtrl","v":44450,"j":0.07},{"p":"D4P1","c":"NegCtrl","v":44700,"j":0.18},
    {"p":"D4P1","c":"NegCtrl","v":46300,"j":-0.11},{"p":"D4P1","c":"NegCtrl","v":46050,"j":0.01},{"p":"D4P1","c":"NegCtrl","v":46350,"j":0.13},
    {"p":"D4P1","c":"NegCtrl","v":47800,"j":-0.15},{"p":"D4P1","c":"NegCtrl","v":48050,"j":-0.04},{"p":"D4P1","c":"NegCtrl","v":47650,"j":0.07},{"p":"D4P1","c":"NegCtrl","v":47900,"j":0.16},
    {"p":"D4P1","c":"NegCtrl","v":49300,"j":0.0},{"p":"D4P1","c":"NegCtrl","v":51100,"j":-0.13},{"p":"D4P1","c":"NegCtrl","v":52100,"j":0.15},{"p":"D4P1","c":"NegCtrl","v":52600,"j":0.08},{"p":"D4P1","c":"NegCtrl","v":53600,"j":0.0},{"p":"D4P1","c":"NegCtrl","v":53800,"j":-0.13},{"p":"D4P1","c":"NegCtrl","v":57200,"j":0.15},{"p":"D4P1","c":"NegCtrl","v":58000,"j":0.1},{"p":"D4P1","c":"NegCtrl","v":58900,"j":-0.13},{"p":"D4P1","c":"NegCtrl","v":59300,"j":0.01},{"p":"D4P1","c":"NegCtrl","v":60600,"j":-0.04},{"p":"D4P1","c":"NegCtrl","v":62800,"j":-0.1},
    {"p":"D4P1","c":"PosCtrl","v":0,"j":-0.17},{"p":"D4P1","c":"PosCtrl","v":250,"j":-0.05},{"p":"D4P1","c":"PosCtrl","v":-150,"j":0.07},{"p":"D4P1","c":"PosCtrl","v":100,"j":0.18},
    {"p":"D4P1","c":"PosCtrl","v":1700,"j":-0.11},{"p":"D4P1","c":"PosCtrl","v":1450,"j":0.01},{"p":"D4P1","c":"PosCtrl","v":1750,"j":0.13},
    {"p":"D4P1","c":"PosCtrl","v":3200,"j":-0.17},{"p":"D4P1","c":"PosCtrl","v":3450,"j":-0.05},{"p":"D4P1","c":"PosCtrl","v":3050,"j":0.07},{"p":"D4P1","c":"PosCtrl","v":3300,"j":0.18},
    {"p":"D4P1","c":"PosCtrl","v":4900,"j":-0.11},{"p":"D4P1","c":"PosCtrl","v":4650,"j":0.01},{"p":"D4P1","c":"PosCtrl","v":4950,"j":0.13},
    {"p":"D4P1","c":"PosCtrl","v":6400,"j":-0.12},{"p":"D4P1","c":"PosCtrl","v":6650,"j":0.0},{"p":"D4P1","c":"PosCtrl","v":6300,"j":0.12},{"p":"D4P1","c":"PosCtrl","v":7800,"j":-0.05},
    {"p":"D4P1","c":"PosCtrl","v":9000,"j":-0.12},{"p":"D4P1","c":"PosCtrl","v":9600,"j":-0.04},{"p":"D4P1","c":"PosCtrl","v":10600,"j":0.04},{"p":"D4P1","c":"PosCtrl","v":12000,"j":0.17},{"p":"D4P1","c":"PosCtrl","v":23300,"j":0.01},

    {"p":"D4P2","c":"NegCtrl","v":31700,"j":-0.18},{"p":"D4P2","c":"NegCtrl","v":32000,"j":-0.06},{"p":"D4P2","c":"NegCtrl","v":31800,"j":0.05},{"p":"D4P2","c":"NegCtrl","v":32050,"j":0.17},
    {"p":"D4P2","c":"NegCtrl","v":33550,"j":-0.12},{"p":"D4P2","c":"NegCtrl","v":33300,"j":0.0},{"p":"D4P2","c":"NegCtrl","v":33500,"j":0.12},
    {"p":"D4P2","c":"NegCtrl","v":34900,"j":-0.18},{"p":"D4P2","c":"NegCtrl","v":35200,"j":-0.06},{"p":"D4P2","c":"NegCtrl","v":35000,"j":0.05},{"p":"D4P2","c":"NegCtrl","v":35250,"j":0.17},
    {"p":"D4P2","c":"NegCtrl","v":36750,"j":-0.12},{"p":"D4P2","c":"NegCtrl","v":36500,"j":0.0},{"p":"D4P2","c":"NegCtrl","v":36700,"j":0.12},
    {"p":"D4P2","c":"NegCtrl","v":38100,"j":-0.18},{"p":"D4P2","c":"NegCtrl","v":38400,"j":-0.06},{"p":"D4P2","c":"NegCtrl","v":38200,"j":0.05},{"p":"D4P2","c":"NegCtrl","v":38450,"j":0.17},
    {"p":"D4P2","c":"NegCtrl","v":39950,"j":-0.12},{"p":"D4P2","c":"NegCtrl","v":39700,"j":0.0},{"p":"D4P2","c":"NegCtrl","v":39900,"j":0.12},
    {"p":"D4P2","c":"NegCtrl","v":41300,"j":-0.18},{"p":"D4P2","c":"NegCtrl","v":41600,"j":-0.06},{"p":"D4P2","c":"NegCtrl","v":41400,"j":0.05},{"p":"D4P2","c":"NegCtrl","v":41650,"j":0.17},
    {"p":"D4P2","c":"NegCtrl","v":43150,"j":-0.12},{"p":"D4P2","c":"NegCtrl","v":42900,"j":0.0},{"p":"D4P2","c":"NegCtrl","v":43100,"j":0.12},
    {"p":"D4P2","c":"NegCtrl","v":44500,"j":-0.18},{"p":"D4P2","c":"NegCtrl","v":44800,"j":-0.06},{"p":"D4P2","c":"NegCtrl","v":44600,"j":0.05},{"p":"D4P2","c":"NegCtrl","v":44850,"j":0.17},
    {"p":"D4P2","c":"NegCtrl","v":46350,"j":-0.12},{"p":"D4P2","c":"NegCtrl","v":46100,"j":0.0},{"p":"D4P2","c":"NegCtrl","v":46300,"j":0.12},
    {"p":"D4P2","c":"NegCtrl","v":47700,"j":-0.17},{"p":"D4P2","c":"NegCtrl","v":48000,"j":-0.05},{"p":"D4P2","c":"NegCtrl","v":47800,"j":0.06},{"p":"D4P2","c":"NegCtrl","v":48050,"j":0.16},
    {"p":"D4P2","c":"NegCtrl","v":49550,"j":-0.1},{"p":"D4P2","c":"NegCtrl","v":49300,"j":0.02},{"p":"D4P2","c":"NegCtrl","v":49500,"j":0.13},
    {"p":"D4P2","c":"NegCtrl","v":51200,"j":-0.15},{"p":"D4P2","c":"NegCtrl","v":51200,"j":-0.06},{"p":"D4P2","c":"NegCtrl","v":52800,"j":0.12},{"p":"D4P2","c":"NegCtrl","v":54300,"j":0.12},{"p":"D4P2","c":"NegCtrl","v":54500,"j":-0.1},{"p":"D4P2","c":"NegCtrl","v":57200,"j":-0.01},{"p":"D4P2","c":"NegCtrl","v":58200,"j":0.13},{"p":"D4P2","c":"NegCtrl","v":59100,"j":0.05},{"p":"D4P2","c":"NegCtrl","v":60500,"j":-0.04},
    {"p":"D4P2","c":"PosCtrl","v":-100,"j":-0.18},{"p":"D4P2","c":"PosCtrl","v":200,"j":-0.06},{"p":"D4P2","c":"PosCtrl","v":0,"j":0.05},{"p":"D4P2","c":"PosCtrl","v":250,"j":0.17},
    {"p":"D4P2","c":"PosCtrl","v":1750,"j":-0.12},{"p":"D4P2","c":"PosCtrl","v":1500,"j":0.0},{"p":"D4P2","c":"PosCtrl","v":1700,"j":0.12},
    {"p":"D4P2","c":"PosCtrl","v":3100,"j":-0.18},{"p":"D4P2","c":"PosCtrl","v":3400,"j":-0.06},{"p":"D4P2","c":"PosCtrl","v":3200,"j":0.05},{"p":"D4P2","c":"PosCtrl","v":3450,"j":0.17},
    {"p":"D4P2","c":"PosCtrl","v":4950,"j":-0.12},{"p":"D4P2","c":"PosCtrl","v":4700,"j":0.0},{"p":"D4P2","c":"PosCtrl","v":4900,"j":0.12},
    {"p":"D4P2","c":"PosCtrl","v":6300,"j":-0.17},{"p":"D4P2","c":"PosCtrl","v":6600,"j":-0.05},{"p":"D4P2","c":"PosCtrl","v":6400,"j":0.06},{"p":"D4P2","c":"PosCtrl","v":6650,"j":0.16},
    {"p":"D4P2","c":"PosCtrl","v":8100,"j":-0.12},{"p":"D4P2","c":"PosCtrl","v":7900,"j":0.01},{"p":"D4P2","c":"PosCtrl","v":8200,"j":0.1},{"p":"D4P2","c":"PosCtrl","v":9300,"j":-0.1},{"p":"D4P2","c":"PosCtrl","v":9400,"j":0.02},
    {"p":"D4P2","c":"PosCtrl","v":10200,"j":0.09},{"p":"D4P2","c":"PosCtrl","v":10600,"j":-0.05},{"p":"D4P2","c":"PosCtrl","v":30100,"j":-0.1}
  ]},
  "facet": {"field": "p", "type": "nominal", "header": {"labels": false, "title": null, "labelFontSize": 0, "labelPadding": 0, "labelExpr": "''"}},
  "columns": 4,
  "bounds": "flush",
  "spacing": {"row": 24, "column": 0},
  "resolve": {"axis": {"x": "independent"}},
  "spec": {
    "width": 192,
    "height": 377,
    "resolve": {"scale": {"x": "independent"}},
    "layer": [
      {
        "transform": [{"filter": "isValid(datum.lab)"}],
        "mark": {"type": "rect", "fill": "#f3f3f3", "stroke": "#d6d6d6", "strokeWidth": 1},
        "encoding": {
          "y": {"datum": 68800, "type": "quantitative",
            "scale": {"domain": [-3060, 73880], "nice": false, "zero": false},
            "axis": {"values": [0, 20000, 40000, 60000], "labelExpr": "datum.value == 0 ? '0' : (datum.value / 1000) + 'k'", "title": null,
              "labelFontSize": 19, "labelFontWeight": "bold", "labelColor": "#111111", "labelPadding": 5,
              "domainColor": "#000000", "domainWidth": 2, "tickColor": "#cccccc", "tickSize": 5, "tickWidth": 1}},
          "y2": {"datum": 73880}
        }
      },
      {
        "transform": [{"filter": "isValid(datum.lab)"}],
        "mark": {"type": "text", "fontSize": 18.5, "color": "#222222", "baseline": "middle"},
        "encoding": {"y": {"datum": 71340, "type": "quantitative"}, "text": {"field": "lab"}}
      },
      {
        "transform": [{"filter": "isValid(datum.q1)"}],
        "mark": {"type": "rect", "color": "#c9c9c9"},
        "encoding": {
          "x": {"field": "c", "type": "nominal", "bandPosition": 0.0833, "scale": {"domain": ["NegCtrl", "PosCtrl"], "paddingInner": 0, "paddingOuter": 0.143}, "axis": null},
          "x2": {"field": "c", "bandPosition": 0.9167},
          "y": {"field": "q1", "type": "quantitative"},
          "y2": {"field": "q3"}
        }
      },
      {
        "transform": [{"filter": "isValid(datum.lo)"}],
        "mark": {"type": "bar", "color": "#c9c9c9", "width": 9},
        "encoding": {
          "x": {"field": "c", "type": "nominal", "scale": {"domain": ["NegCtrl", "PosCtrl"], "paddingInner": 0, "paddingOuter": 0.143}, "axis": null},
          "y": {"field": "lo", "type": "quantitative"},
          "y2": {"field": "hi"}
        }
      },
      {
        "transform": [{"filter": "isValid(datum.n)"}],
        "mark": {"type": "bar", "color": "#6e6e6e", "stroke": "#6e6e6e", "strokeWidth": 1, "binSpacing": 0},
        "encoding": {
          "x": {"field": "n", "type": "quantitative", "scale": {"domain": [-27.14, 247.14], "nice": false, "zero": false}, "axis": null},
          "x2": {"datum": 0},
          "y": {"field": "b", "type": "quantitative", "bin": {"binned": true, "step": 1000}}
        }
      },
      {
        "transform": [{"filter": "isValid(datum.md)"}],
        "mark": {"type": "tick", "color": "white", "thickness": 3, "size": 70, "opacity": 1},
        "encoding": {
          "x": {"field": "c", "type": "nominal", "scale": {"domain": ["NegCtrl", "PosCtrl"], "paddingInner": 0, "paddingOuter": 0.143}, "axis": null},
          "y": {"field": "md", "type": "quantitative"}
        }
      },
      {
        "transform": [{"filter": "isValid(datum.j)"}],
        "mark": {"type": "circle", "size": 100, "fill": "#6b6b6b", "stroke": "#4a4a4a", "strokeWidth": 1, "opacity": 1, "fillOpacity": 1},
        "encoding": {
          "x": {"field": "c", "type": "nominal",
            "scale": {"domain": ["NegCtrl", "PosCtrl"], "paddingInner": 0, "paddingOuter": 0.143},
            "axis": {"title": null, "bandPosition": 0, "labelAngle": 0, "labelFontSize": 16, "labelColor": "#222222",
              "labelOffset": {"condition": {"test": "datum.value === 'NegCtrl'", "value": -6}, "value": 6},
              "tickOpacity": {"condition": {"test": "datum.value === 'PosCtrl'", "value": 1}, "value": 0},
              "tickColor": "#dddddd", "tickSize": 22, "tickWidth": 1, "labelPadding": -19,
              "domainColor": "#000000", "domainWidth": 2}},
          "xOffset": {"field": "j", "type": "quantitative", "scale": {"domain": [-0.5, 0.5], "range": [0, 84]}},
          "y": {"field": "v", "type": "quantitative"}
        }
      },
      {
        "transform": [{"filter": "isValid(datum.dh)"}],
        "mark": {"type": "rule", "color": "#111111", "strokeWidth": 2.5, "strokeDash": [5, 2.5]},
        "encoding": {
          "x": {"field": "c", "type": "nominal", "bandPosition": 0.0833, "scale": {"domain": ["NegCtrl", "PosCtrl"], "paddingInner": 0, "paddingOuter": 0.143}, "axis": null},
          "x2": {"field": "c", "bandPosition": 0.9167},
          "y": {"field": "dh", "type": "quantitative"}
        }
      },
      {
        "transform": [{"filter": "isValid(datum.dl)"}],
        "mark": {"type": "rule", "color": "#111111", "strokeWidth": 2.5, "strokeDash": [5, 2.5]},
        "encoding": {
          "x": {"field": "c", "type": "nominal", "bandPosition": 0.0833, "scale": {"domain": ["NegCtrl", "PosCtrl"], "paddingInner": 0, "paddingOuter": 0.143}, "axis": null},
          "x2": {"field": "c", "bandPosition": 0.9167},
          "y": {"field": "dl", "type": "quantitative"}
        }
      }
    ]
  }
  }]
}
